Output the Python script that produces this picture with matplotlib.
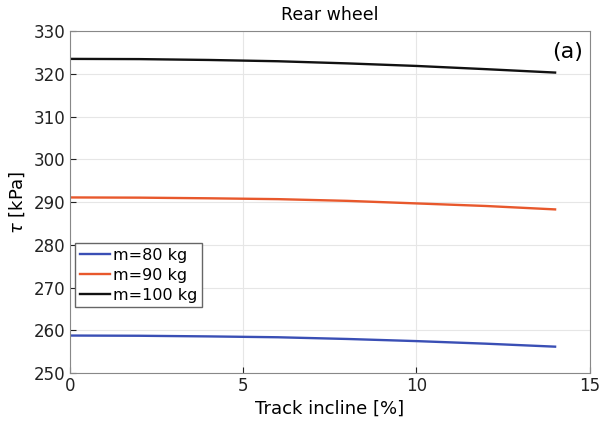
import matplotlib
matplotlib.use("Agg")
import matplotlib.pyplot as plt

# Shear stress at the rear wheel vs. track incline
incline = [0, 2, 4, 6, 8, 10, 12, 14]
tau_80 = [258.8, 258.75, 258.6, 258.4, 258.0, 257.5, 256.9, 256.2]
tau_90 = [291.1, 291.05, 290.9, 290.7, 290.3, 289.7, 289.1, 288.3]
tau_100 = [323.5, 323.45, 323.25, 322.95, 322.45, 321.85, 321.1, 320.3]
labels = ["m=80 kg", "m=90 kg", "m=100 kg"]
colors = ["#3a4fb5", "#e8582c", "#111111"]

fig = plt.figure(figsize=(6.03, 4.26), dpi=100)
ax = fig.add_axes([0.116, 0.124, 0.862, 0.803])

for y, lab, c in zip([tau_80, tau_90, tau_100], labels, colors):
    ax.plot(incline, y, color=c, lw=1.7, label=lab)

ax.set_xlim(0, 15)
ax.set_ylim(250, 330)
ax.set_xticks([0, 5, 10, 15])
ax.set_yticks(range(250, 331, 10))
ax.grid(color="#e6e6e6", lw=0.8)
ax.tick_params(direction="in", labelsize=12, colors="#222222", length=4, pad=3)
for s in ax.spines.values():
    s.set_color("#888888")

ax.set_title("Rear wheel", fontsize=12.5, pad=8)
ax.set_xlabel("Track incline [%]", fontsize=13, labelpad=3)
ax.set_ylabel(r"$\tau$ [kPa]", fontsize=13, labelpad=5)
ax.text(0.987, 0.94, "(a)", transform=ax.transAxes, ha="right", va="center", fontsize=16)

leg = ax.legend(loc="upper left", bbox_to_anchor=(0.01, 0.38), fontsize=11.5,
                fancybox=False, edgecolor="#666666", borderaxespad=0.0,
                handlelength=1.9, handletextpad=0.15, labelspacing=0.3, borderpad=0.3)
leg.get_frame().set_linewidth(1.0)
leg.get_frame().set_alpha(1)

fig.savefig("out.png", dpi=100)
